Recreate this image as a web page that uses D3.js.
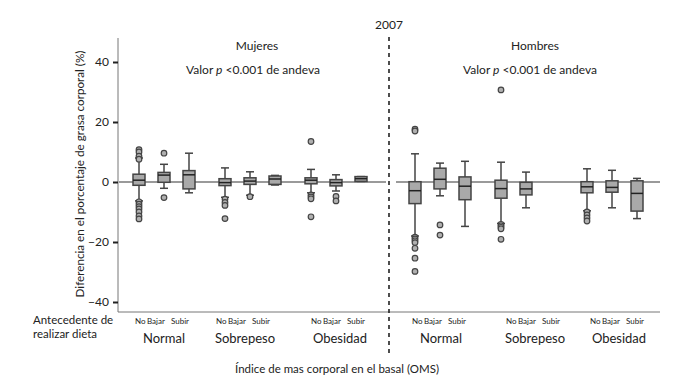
<!DOCTYPE html>
<html>
<head>
<meta charset="utf-8">
<script src="https://cdn.jsdelivr.net/npm/d3@7"></script>
<style>
  body { margin: 0; background: #fff; }
  svg { font-family: Lato, "Open Sans", sans-serif; }
</style>
</head>
<body>
<div id="chart"></div>
<script>
// categorias
const sexes = ["Mujeres", "Hombres"];
const bmiGroups = ["Normal", "Sobrepeso", "Obesidad"];
const dietGroups = ["No", "Bajar", "Subir"];
const yTicks = [-40, -20, 0, 20, 40];

// [whiskerLow, q1, median, q3, whiskerHigh] por sexo, imc, dieta (null = sin caja)
const boxesMujeres = [
  [[-6.3, -1.1, 0.6, 2.6, 8], [-2.1, -0.1, 2.3, 3.2, 5.9], [-3.6, -2.3, 2.4, 3.8, 9.6]],
  [[-5.1, -1.2, -0.2, 1.1, 4.7], [-4.4, -0.8, 0.3, 1.4, 3.4], [-1, -0.8, 1, 2, 2.2]],
  [[-3.6, -0.6, 0.6, 1.4, 4.2], [-3, -1.3, -0.2, 0.8, 2.4], [0.2, 0.2, 1.1, 1.8, 1.8]]
];
const boxesHombres = [
  [[-18, -7.2, -2.9, 0.1, 9.4], [-4.6, -2.3, 0.9, 4.6, 6.3], [-14.8, -5.9, -1.4, 1.7, 6.9]],
  [[-13.8, -5.4, -2.2, 0.6, 6.6], [-8.6, -4.3, -2.3, -0.1, 3.3], null],
  [[-9.6, -3.6, -1.6, 0.1, 4.4], [-8.6, -3.4, -1.8, 0.4, 3.9], [-12.2, -9.7, -3.8, 0.4, 1.2]]
];
// valores atipicos
const outliersMujeres = [
  [[10.8, 10, 8.6, 7.6, -6.6, -7.4, -8.2, -9, -10, -11.3, -12.3], [9.6, -5.2], []],
  [[-5.7, -6.8, -7.8, -12.2], [-4.9], []],
  [[13.5, -4.3, -5, -5.6, -11.6], [-4.8, -6.3], []]
];
const outliersHombres = [
  [[17.6, 17, -18.4, -19, -19.6, -20.2, -22.1, -25.4, -29.8], [-14.3, -17.7], []],
  [[30.7, -14.1, -14.6, -15.1, -15.6, -19.1], [], []],
  [[-10, -11, -12, -13], [], []]
];
const allBoxes = [boxesMujeres, boxesHombres];
const allOutliers = [outliersMujeres, outliersHombres];

const width = 682, height = 383;
const svg = d3.select("#chart").append("svg")
  .attr("width", width).attr("height", height);

const x0 = 118, x1 = 660, yTop = 38, yBottom = 312;
const divider = 389;

const y = d3.scaleLinear().domain([-40, 40]).range([302, 62]);
const bmiX = d3.scalePoint().domain(bmiGroups).range([46, 218]);
const dietX = d3.scalePoint().domain(dietGroups).range([-25, 25]);
const panelOffset = s => s === "Mujeres" ? 118 : 394;
// las etiquetas del eje x no quedan exactamente bajo las cajas
const labelShift = [[0, -5, 4], [1, 9, 7]];
// inicio del texto de cada etiqueta de dieta respecto al centro del grupo
const dietLabelX = d3.scaleOrdinal().domain(dietGroups).range([-29, -17, 7]);
const bw = 12;

const boxFill = "#a9a9a9";
const ink = "#222";

// eje cero (interrumpido en la linea de 2007)
[[x0 + 1, divider - 3], [divider + 7, x1]].forEach(([a, b]) => {
  svg.append("line")
    .attr("x1", a).attr("x2", b)
    .attr("y1", y(0)).attr("y2", y(0))
    .attr("stroke", "#9a9a9a").attr("stroke-width", 2);
});

// ejes
svg.append("line").attr("x1", x0).attr("x2", x0).attr("y1", yTop).attr("y2", yBottom)
  .attr("stroke", "#777").attr("stroke-width", 1);
svg.append("line").attr("x1", x0).attr("x2", x1).attr("y1", yBottom).attr("y2", yBottom)
  .attr("stroke", "#777").attr("stroke-width", 1);

const yAxis = svg.append("g").attr("transform", `translate(${x0},0)`)
  .call(d3.axisLeft(y).tickValues(yTicks).tickSize(5).tickPadding(4));
yAxis.select(".domain").remove();
yAxis.selectAll(".tick line").attr("stroke", ink).attr("stroke-width", 2);
yAxis.selectAll(".tick text").attr("font-size", 12).attr("fill", ink)
  .attr("font-family", "Lato, sans-serif");

// linea divisoria 2007
svg.append("line")
  .attr("x1", divider).attr("x2", divider).attr("y1", 37).attr("y2", 356)
  .attr("stroke", ink).attr("stroke-width", 1.6).attr("stroke-dasharray", "4,4");
svg.append("text").attr("x", divider).attr("y", 29).attr("text-anchor", "middle")
  .attr("font-size", 12).attr("fill", ink).text("2007");

// titulos de panel
const titleX = [257, 535], pValX = [253, 530];
sexes.forEach((s, si) => {
  svg.append("text").attr("x", titleX[si]).attr("y", 50).attr("text-anchor", "middle")
    .attr("font-size", 12).attr("fill", ink).text(s);
  const t = svg.append("text").attr("x", pValX[si]).attr("y", 74).attr("text-anchor", "middle")
    .attr("font-size", 12).attr("fill", ink);
  t.append("tspan").text("Valor ");
  t.append("tspan").attr("font-style", "italic").text("p");
  t.append("tspan").text(" <0.001 de andeva");
});

// cajas
sexes.forEach((s, si) => {
  bmiGroups.forEach((b, bi) => {
    dietGroups.forEach((d, di) => {
      const cx = panelOffset(s) + bmiX(b) + dietX(d);
      const box = allBoxes[si][bi][di];
      const g = svg.append("g");
      if (box) {
        const [lo, q1, med, q3, hi] = box;
        g.append("line").attr("x1", cx).attr("x2", cx).attr("y1", y(hi)).attr("y2", y(q3))
          .attr("stroke", "#444").attr("stroke-width", 1.5);
        g.append("line").attr("x1", cx).attr("x2", cx).attr("y1", y(q1)).attr("y2", y(lo))
          .attr("stroke", "#444").attr("stroke-width", 1.5);
        g.append("line").attr("x1", cx - 4).attr("x2", cx + 4).attr("y1", y(hi)).attr("y2", y(hi))
          .attr("stroke", "#444").attr("stroke-width", 1.5);
        g.append("line").attr("x1", cx - 4).attr("x2", cx + 4).attr("y1", y(lo)).attr("y2", y(lo))
          .attr("stroke", "#444").attr("stroke-width", 1.5);
        g.append("rect").attr("x", cx - bw / 2).attr("width", bw)
          .attr("y", y(q3)).attr("height", Math.max(1, y(q1) - y(q3)))
          .attr("fill", boxFill).attr("stroke", "#444").attr("stroke-width", 1.5);
        g.append("line").attr("x1", cx - bw / 2).attr("x2", cx + bw / 2)
          .attr("y1", y(med)).attr("y2", y(med))
          .attr("stroke", ink).attr("stroke-width", 1.5);
      }
      g.selectAll("circle").data(allOutliers[si][bi][di]).join("circle")
        .attr("cx", cx).attr("cy", v => y(v)).attr("r", 2.8)
        .attr("fill", "#b0b0b0").attr("stroke", "#444").attr("stroke-width", 1.2);
    });
    // etiquetas del eje x
    const gx = panelOffset(s) + bmiX(b) + labelShift[si][bi];
    dietGroups.forEach(d => {
      svg.append("text").attr("x", gx + dietLabelX(d)).attr("y", 324)
        .attr("font-size", 8).attr("fill", ink).text(d);
    });
    svg.append("text").attr("x", gx).attr("y", 343).attr("text-anchor", "middle")
      .attr("font-size", 13).attr("fill", ink).text(b);
  });
});

// etiquetas
svg.append("text").attr("x", 33).attr("y", 324).attr("font-size", 11.5).attr("fill", ink)
  .text("Antecedente de");
svg.append("text").attr("x", 33).attr("y", 338).attr("font-size", 11.5).attr("fill", ink)
  .text("realizar dieta");
svg.append("text").attr("x", 337).attr("y", 373).attr("text-anchor", "middle")
  .attr("font-size", 11.5).attr("fill", ink).text("Índice de mas corporal en el basal (OMS)");
svg.append("text").attr("transform", `translate(84,174) rotate(-90)`)
  .attr("text-anchor", "middle").attr("font-size", 11.7).attr("fill", ink)
  .text("Diferencia en el porcentaje de grasa corporal (%)");
</script>
</body>
</html>
